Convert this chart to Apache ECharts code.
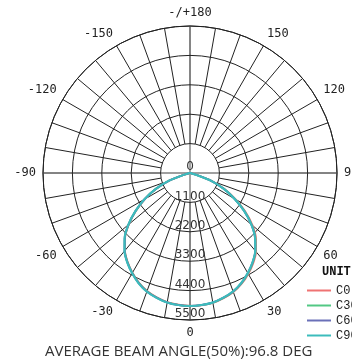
<!DOCTYPE html>
<html>
<head>
<meta charset="utf-8">
<script src="https://cdn.jsdelivr.net/npm/echarts@6/dist/echarts.min.js"></script>
<style>
    html, body { margin: 0; padding: 0; background: #fff; }
    #chart { width: 352px; height: 363px; }
</style>
</head>
<body>
<div id="chart"></div>
<script>
    // angles in degrees, 0 = straight down, positive towards the right side
    const angles = [-90, -85, -80, -75, -70, -65, -60, -55, -50, -45, -40, -35, -30, -25, -20, -15, -10, -5,
        0, 5, 10, 15, 20, 25, 30, 35, 40, 45, 50, 55, 60, 65, 70, 75, 80, 85, 90]
    const seriesNames = ['C0', 'C30', 'C60', 'C90']
    const c0 = [0, 0, 30, 180, 810, 1400, 1950, 2480, 2990, 3440, 3790, 4070, 4310, 4530, 4700, 4820, 4910, 4950,
        4975, 4965, 4935, 4850, 4740, 4570, 4360, 4120, 3840, 3490, 3050, 2520, 1960, 1420, 850, 200, 30, 0, 0]
    const c30 = [0, 0, 30, 185, 815, 1405, 1955, 2485, 2995, 3445, 3795, 4075, 4315, 4535, 4705, 4825, 4915, 4955,
        4975, 4962, 4928, 4840, 4725, 4555, 4340, 4095, 3815, 3460, 3015, 2490, 1930, 1400, 835, 190, 30, 0, 0]
    const c60 = [0, 0, 30, 190, 825, 1415, 1965, 2495, 3005, 3455, 3805, 4085, 4325, 4545, 4715, 4830, 4920, 4960,
        4975, 4960, 4922, 4832, 4716, 4543, 4325, 4082, 3800, 3445, 2998, 2475, 1915, 1390, 828, 185, 30, 0, 0]
    const c90 = [0, 0, 30, 195, 835, 1425, 1975, 2505, 3015, 3465, 3815, 4095, 4335, 4555, 4725, 4835, 4925, 4962,
        4975, 4958, 4918, 4828, 4712, 4538, 4318, 4076, 3795, 3440, 2990, 2468, 1908, 1384, 823, 180, 30, 0, 0]
    const seriesValues = [c0, c30, c60, c90]
    const seriesColors = ['#ef7373', '#52c884', '#6a70b8', '#3cbcbc']
    const radiusTicks = [0, 1100, 2200, 3300, 4400, 5500]

    let container = echarts.init(document.getElementById('chart'))

    let center = [190, 173]
    let outer = 147

    let option = {
        animation: false,
        title: [{
            text: 'UNIT',
            left: 322,
            top: 266,
            padding: 0,
            textStyle: {
                fontFamily: 'Liberation Mono',
                fontWeight: 'bold',
                fontSize: 12,
                color: '#111'
            }
        }, {
            text: 'AVERAGE BEAM ANGLE(50%):96.8 DEG',
            left: 45,
            top: 344,
            padding: 0,
            textStyle: {
                fontFamily: 'Open Sans',
                fontWeight: 'normal',
                fontSize: 15,
                color: '#333'
            }
        }],
        legend: {
            orient: 'vertical',
            left: 307,
            top: 283,
            padding: 0,
            icon: 'rect',
            itemWidth: 24,
            itemHeight: 2,
            itemGap: 0,
            textStyle: {
                fontFamily: 'Liberation Mono',
                fontSize: 12,
                color: '#222',
                lineHeight: 15
            },
            data: seriesNames
        },
        color: seriesColors,
        polar: [
            {center: center, radius: outer},
            {center: center, radius: [outer / 5, outer]},
            {center: center, radius: outer}
        ],
        angleAxis: [{
            // outer circle + labels
            polarIndex: 0,
            type: 'value',
            min: 0,
            max: 360,
            interval: 30,
            startAngle: 270,
            clockwise: false,
            axisLine: {lineStyle: {color: '#222', width: 1}},
            axisTick: {show: false},
            splitLine: {show: false},
            axisLabel: {
                margin: 7,
                fontFamily: 'DejaVu Sans Mono',
                fontSize: 12,
                color: '#222',
                formatter: function (v) {
                    if (v === 180) return '-/+180'
                    if (v > 180) return String(v - 360)
                    return String(v)
                }
            }
        }, {
            // spokes every 10 deg, starting at the first ring
            polarIndex: 1,
            type: 'value',
            min: 0,
            max: 360,
            interval: 10,
            startAngle: 270,
            clockwise: false,
            axisLine: {show: false},
            axisTick: {show: false},
            axisLabel: {show: false},
            splitLine: {lineStyle: {color: '#222', width: 1}}
        }, {
            // grey cross
            polarIndex: 2,
            type: 'value',
            min: 0,
            max: 360,
            interval: 90,
            startAngle: 270,
            clockwise: false,
            z: 1,
            axisLine: {show: false},
            axisTick: {show: false},
            axisLabel: {show: false},
            splitLine: {lineStyle: {color: '#808080', width: 1.4}}
        }],
        radiusAxis: [{
            polarIndex: 0,
            type: 'value',
            min: radiusTicks[0],
            max: radiusTicks[radiusTicks.length - 1],
            interval: radiusTicks[1] - radiusTicks[0],
            axisLine: {show: false},
            axisTick: {show: false},
            splitLine: {lineStyle: {color: '#222', width: 1}},
            z: 3,
            axisLabel: {
                margin: 0,
                align: 'center',
                verticalAlign: 'bottom',
                fontFamily: 'DejaVu Sans',
                fontSize: 12,
                color: '#333',
                formatter: function (v) {
                    return String(v)
                }
            }
        }, {
            polarIndex: 1,
            type: 'value',
            min: 0,
            max: 5500,
            show: false
        }, {
            polarIndex: 2,
            type: 'value',
            min: 0,
            max: 5500,
            show: false
        }],
        series: seriesNames.map(function (name, i) {
            return {
                name: name,
                type: 'line',
                coordinateSystem: 'polar',
                polarIndex: 0,
                showSymbol: false,
                smooth: 0.2,
                lineStyle: {width: 2},
                data: angles.map(function (a, k) {
                    return [seriesValues[i][k], a < 0 ? a + 360 : a]
                })
            }
        })
    }

    container.setOption(option)
</script>
</body>
</html>
